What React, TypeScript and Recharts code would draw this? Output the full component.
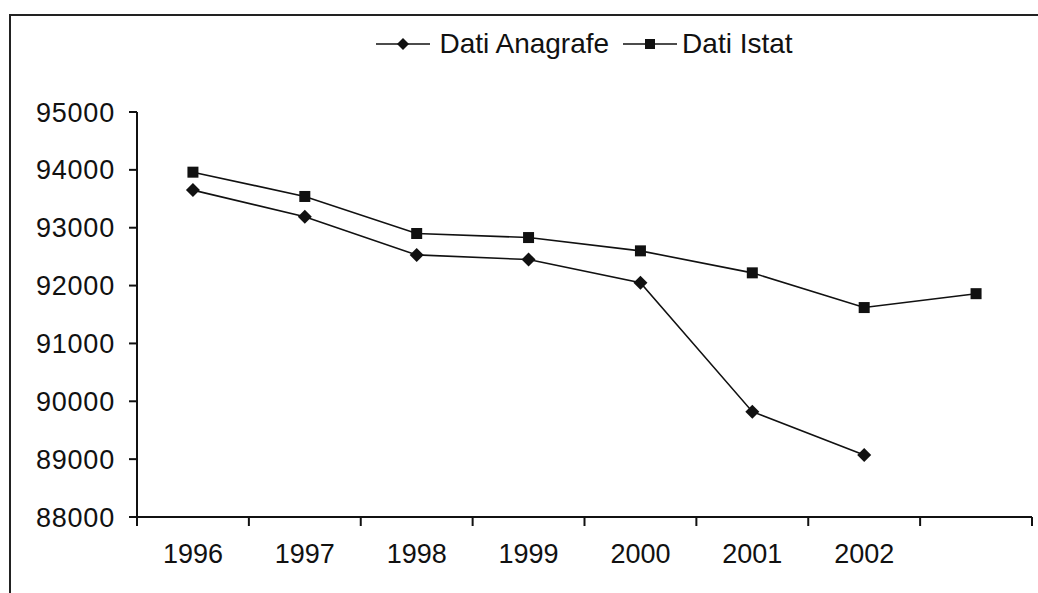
import React from "react";
import { LineChart, Line, XAxis, YAxis, Legend } from "recharts";

const years = ["1996", "1997", "1998", "1999", "2000", "2001", "2002", ""];
const anagrafe = [93650, 93190, 92530, 92450, 92050, 89820, 89070, null];
const istat = [93960, 93540, 92900, 92830, 92600, 92220, 91620, 91860];
const yTicks = [88000, 89000, 90000, 91000, 92000, 93000, 94000, 95000];

const W = 1038;
const H = 593;
const LEFT = 137;
const RIGHT = 6;
const CAT_W = (W - LEFT - RIGHT) / years.length;

const data = years.map((y, i) => ({
  x: i + 0.5,
  year: y,
  anagrafe: anagrafe[i],
  istat: istat[i],
}));

const FONT = "'Liberation Sans', Arial, sans-serif";

const Diamond = ({ cx, cy, r = 6 }: any) => {
  if (cx == null || cy == null) return null;
  return (
    <polygon
      points={`${cx},${cy - r} ${cx + r},${cy} ${cx},${cy + r} ${cx - r},${cy}`}
      fill="#111"
    />
  );
};

const Square = ({ cx, cy, s = 10 }: any) => {
  if (cx == null || cy == null) return null;
  return <rect x={cx - s / 2} y={cy - s / 2} width={s} height={s} fill="#111" />;
};

const YearTick = ({ x, y, payload }: any) => {
  const label = years[payload.value];
  if (!label) return null;
  return (
    <text
      x={x + CAT_W / 2}
      y={y}
      dy={35}
      textAnchor="middle"
      fontFamily={FONT}
      fontSize={27}
      fill="#111"
    >
      {label}
    </text>
  );
};

const LegendContent = () => {
  const item = (name: string, marker: React.ReactNode, gap: number) => (
    <div style={{ display: "flex", alignItems: "center", gap }}>
      <svg width={54} height={16} style={{ flexShrink: 0 }}>
        <line x1={0} y1={8} x2={54} y2={8} stroke="#111" strokeWidth={1.6} />
        {marker}
      </svg>
      <span style={{ whiteSpace: "nowrap" }}>{name}</span>
    </div>
  );
  return (
    <div
      style={{
        display: "flex",
        justifyContent: "center",
        gap: 14,
        fontFamily: FONT,
        fontSize: 28,
        lineHeight: "30px",
        color: "#111",
      }}
    >
      {item("Dati Anagrafe", <Diamond cx={27} cy={8} r={6} />, 9)}
      {item("Dati Istat", <Square cx={27} cy={8} s={10} />, 5)}
    </div>
  );
};

export default function App() {
  return (
    <div
      style={{
        position: "absolute",
        left: 0,
        top: 0,
        width: W,
        height: H,
        background: "#fff",
        overflow: "hidden",
      }}
    >
      <div
        style={{
          position: "absolute",
          left: 9,
          top: 14,
          right: 0,
          bottom: 0,
          borderTop: "2px solid #222",
          borderLeft: "2px solid #222",
        }}
      />
      <LineChart
        width={W}
        height={H}
        data={data}
        margin={{ top: 30, right: RIGHT, left: 0, bottom: 0 }}
      >
        <Legend
          verticalAlign="top"
          height={82}
          wrapperStyle={{ top: 29, left: LEFT, width: W - LEFT - RIGHT }}
          content={<LegendContent />}
        />
        <XAxis
          dataKey="x"
          type="number"
          domain={[0, years.length]}
          ticks={years.map((_, i) => i).concat([years.length])}
          height={76}
          tickSize={9}
          stroke="#111"
          strokeWidth={2}
          tick={<YearTick />}
          interval={0}
          allowDecimals={false}
        />
        <YAxis
          width={LEFT}
          domain={[88000, 95000]}
          ticks={yTicks}
          tickSize={8}
          tickMargin={14}
          stroke="#111"
          strokeWidth={2}
          interval={0}
          tick={{ fontFamily: FONT, fontSize: 27, letterSpacing: 0.8, fill: "#111" }}
        />
        <Line
          dataKey="anagrafe"
          stroke="#111"
          strokeWidth={1.6}
          type="linear"
          dot={<Diamond r={7} />}
          isAnimationActive={false}
          connectNulls={false}
        />
        <Line
          dataKey="istat"
          stroke="#111"
          strokeWidth={1.6}
          type="linear"
          dot={<Square s={11} />}
          isAnimationActive={false}
        />
      </LineChart>
    </div>
  );
}
